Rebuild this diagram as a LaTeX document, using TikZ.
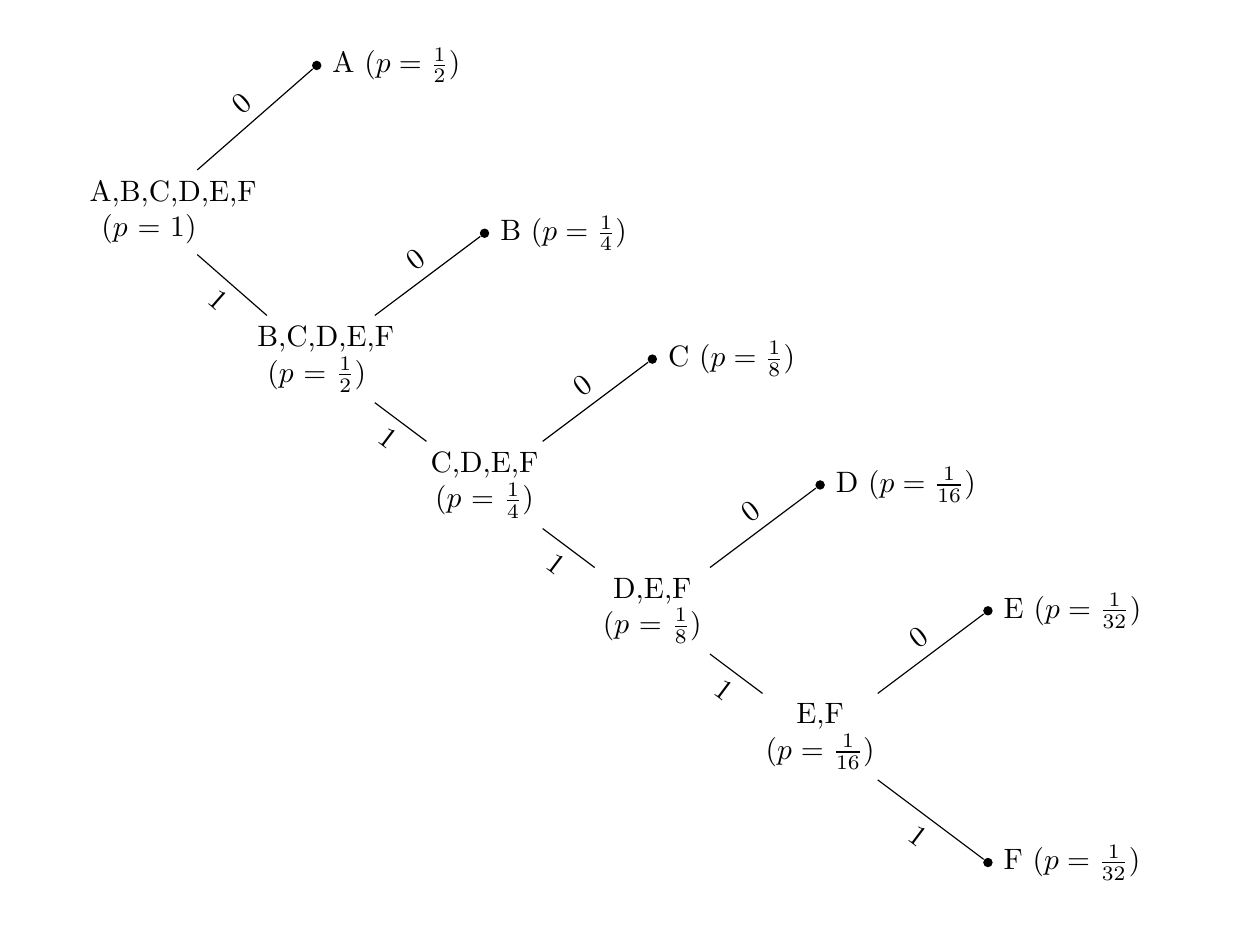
\documentclass[tikz,border=0pt]{standalone}
\begin{document}
\begin{tikzpicture}
\tikzset{
  inner/.style={align=center, text width=40.3pt},
  leafdot/.style={circle, fill=black, inner sep=0pt, minimum size=3.2pt},
  zero/.style={midway, above, sloped},
  one/.style={midway, below, sloped},
}
\useasboundingbox (-1.775,2.530) rectangle (12.933,-8.769);
\node[inner] (r) at (0,0) {A,B,C,D,E,F\\($p=1$)};
\node[leafdot, label=right:{A ($p=\frac{1}{2}$)}] (A) at (2,1.75) {};
\node[inner] (n1) at (2,-1.75) {B,C,D,E,F\\($p=\frac{1}{2}$)};
\node[leafdot, label=right:{B ($p=\frac{1}{4}$)}] (B) at (4,-0.25) {};
\node[inner] (n2) at (4,-3.25) {C,D,E,F\\($p=\frac{1}{4}$)};
\node[leafdot, label=right:{C ($p=\frac{1}{8}$)}] (C) at (6,-1.75) {};
\node[inner] (n3) at (6,-4.75) {D,E,F\\($p=\frac{1}{8}$)};
\node[leafdot, label=right:{D ($p=\frac{1}{16}$)}] (D) at (8,-3.25) {};
\node[inner] (n4) at (8,-6.25) {E,F\\($p=\frac{1}{16}$)};
\node[leafdot, label=right:{E ($p=\frac{1}{32}$)}] (E) at (10,-4.75) {};
\node[leafdot, label=right:{F ($p=\frac{1}{32}$)}] (F) at (10,-7.75) {};
\draw (r) -- node[zero] {0} (A);
\draw (r) -- node[one] {1} (n1);
\draw (n1) -- node[zero] {0} (B);
\draw (n1) -- node[one] {1} (n2);
\draw (n2) -- node[zero] {0} (C);
\draw (n2) -- node[one] {1} (n3);
\draw (n3) -- node[zero] {0} (D);
\draw (n3) -- node[one] {1} (n4);
\draw (n4) -- node[zero] {0} (E);
\draw (n4) -- node[one] {1} (F);
\end{tikzpicture}
\end{document}
